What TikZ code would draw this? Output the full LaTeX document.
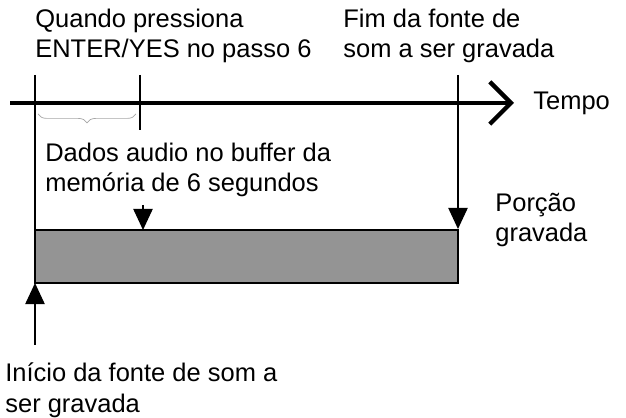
\documentclass[tikz,border=0pt]{standalone}
\usepackage{fontspec}
\setmainfont{Liberation Sans}
\usetikzlibrary{arrows.meta,decorations.pathreplacing}
\tikzset{
    label/.style={align=left, inner sep=0pt, font=\fontsize{14.5}{17.5}\selectfont},
    tip/.style={-{Triangle[length=12pt,width=11pt]}},
}
\begin{document}
\begin{tikzpicture}[x=0.02cm,y=-0.02cm]
        \useasboundingbox (0,0) rectangle (626,418);

        % box
        \draw[fill=black!42, thick] (35,230) rectangle (458,283);
        \node[label, anchor=west] (porcao) at (495,220) {Porção\\gravada};

        % timeline
        \coordinate (t0) at (10,103);
        \coordinate (t1) at (514,103);
        \draw[line width=2.5pt, -{Straight Barb[length=12pt,width=24pt,line width=2.5pt]}] (t0) -- (t1);
        \node[label, anchor=west] (tempo) at (533,103) {Tempo};

        % markers
        \draw[thick] (35,75) -- (35,230);
        \draw[thick] (140,75) -- (140,130);
        \draw[thick, tip] (458,75) -- (458,229);
        \draw[thick, tip] (143,205) -- (143,230);
        \draw[thick, tip] (35,345) -- (35,283);
        \draw[black!35, decorate, decoration={brace, amplitude=5pt}] (136,114) -- (38,114);

        \node[label, anchor=west] (quando) at (35,36) {Quando pressiona\\ENTER/YES no passo 6};
        \node[label, anchor=west] (fim) at (343,36) {Fim da fonte de\\som a ser gravada};
        \node[label, anchor=west] (dados) at (45,170) {Dados audio no buffer da\\memória de 6 segundos};
        \node[label, anchor=west] (inicio) at (5,390) {Início da fonte de som a\\ser gravada};
\end{tikzpicture}
\end{document}
